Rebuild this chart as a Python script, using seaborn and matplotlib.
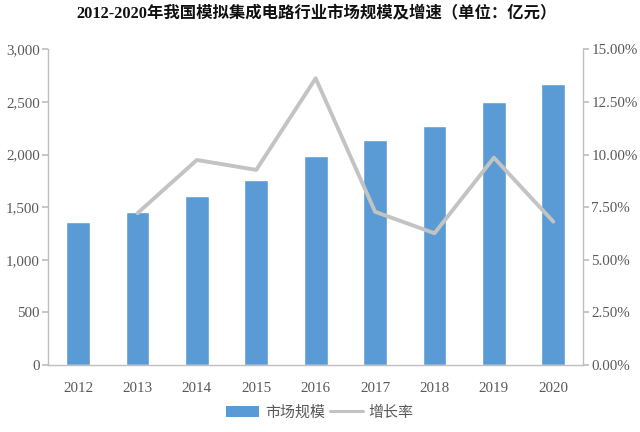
import numpy as np
import pandas as pd
import matplotlib
matplotlib.use("Agg")
import matplotlib.pyplot as plt
import seaborn as sns
from matplotlib.ticker import FuncFormatter, MultipleLocator
from matplotlib.patches import Patch
from matplotlib.lines import Line2D

years = ["2012", "2013", "2014", "2015", "2016", "2017", "2018", "2019", "2020"]
market = [1362, 1458, 1608, 1755, 1986, 2138, 2274, 2495, 2667]
growth_years = ["2013", "2014", "2015", "2016", "2017", "2018", "2019", "2020"]
growth = [7.21, 9.74, 9.27, 13.62, 7.28, 6.26, 9.85, 6.81]

sns.set_theme(style="white")
plt.rcParams['font.family'] = ['Noto Sans CJK SC', 'DejaVu Sans']

bar_color = "#5B9BD5"
line_color = "#C3C3C3"
tick_color = "#595959"
spine_color = "#BFBFBF"

fig = plt.figure(figsize=(6.4, 4.32), dpi=100)
ax = fig.add_axes([0.0755, 0.155, 0.8355, 0.731])

df = pd.DataFrame({"year": years, "market": market})
sns.barplot(data=df, x="year", y="market", order=years, color=bar_color,
            width=0.4, saturation=1, ax=ax)
ax.set_ylim(0, 3000)
ax.set_xlim(-0.5, len(years) - 0.5)
ax.yaxis.set_major_locator(MultipleLocator(500))
ax.yaxis.set_major_formatter(FuncFormatter(lambda v, p: f"{int(v):,}"))
ax.set_xlabel("")
ax.set_ylabel("")

ax2 = ax.twinx()
gdf = pd.DataFrame({"pos": [years.index(y) for y in growth_years], "growth": growth})
sns.lineplot(data=gdf, x="pos", y="growth", color=line_color, linewidth=2.8, ax=ax2)
ax2.set_ylim(0, 15)
ax2.set_xlim(-0.5, len(years) - 0.5)
ax2.yaxis.set_major_locator(MultipleLocator(2.5))
ax2.yaxis.set_major_formatter(FuncFormatter(lambda v, p: f"{v:.2f}%"))
ax2.set_ylabel("")
ax2.set_xlabel("")

for a in (ax, ax2):
    a.spines["top"].set_visible(False)
    for s in ("left", "right", "bottom"):
        a.spines[s].set_color(spine_color)
        a.spines[s].set_linewidth(1.0)
ax.spines["right"].set_visible(False)
ax2.spines["left"].set_visible(False)
ax2.spines["bottom"].set_visible(False)

serif = ["Liberation Serif", "DejaVu Serif"]
ax.tick_params(axis="y", left=True, length=4, color=spine_color, labelsize=10.8,
               labelcolor=tick_color, pad=2)
ax.tick_params(axis="x", bottom=False, labelsize=10.8, labelcolor=tick_color, pad=6)
ax2.tick_params(axis="y", right=True, length=4, color=spine_color, labelsize=10.8,
                labelcolor=tick_color, pad=2)
for lab in ax.get_xticklabels() + ax.get_yticklabels() + ax2.get_yticklabels():
    lab.set_fontfamily(serif)

fig.text(0.494, 0.968, "2012-2020年我国模拟集成电路行业市场规模及增速（单位：亿元）",
         ha="center", va="center", fontsize=11.8, fontweight="bold",
         family=["Liberation Serif", "Noto Sans CJK SC"], color="#111111")

handles = [Patch(facecolor=bar_color, edgecolor="none"),
           Line2D([0], [0], color=line_color, linewidth=2.2)]
fig.legend(handles, ["市场规模", "增长率"], loc="center", bbox_to_anchor=(0.5, 0.045),
           ncol=2, frameon=False, fontsize=10.8, handlelength=2.2, handleheight=0.7,
           columnspacing=0.3, handletextpad=0.4, labelcolor=tick_color)

fig.savefig("out.png", dpi=100)
